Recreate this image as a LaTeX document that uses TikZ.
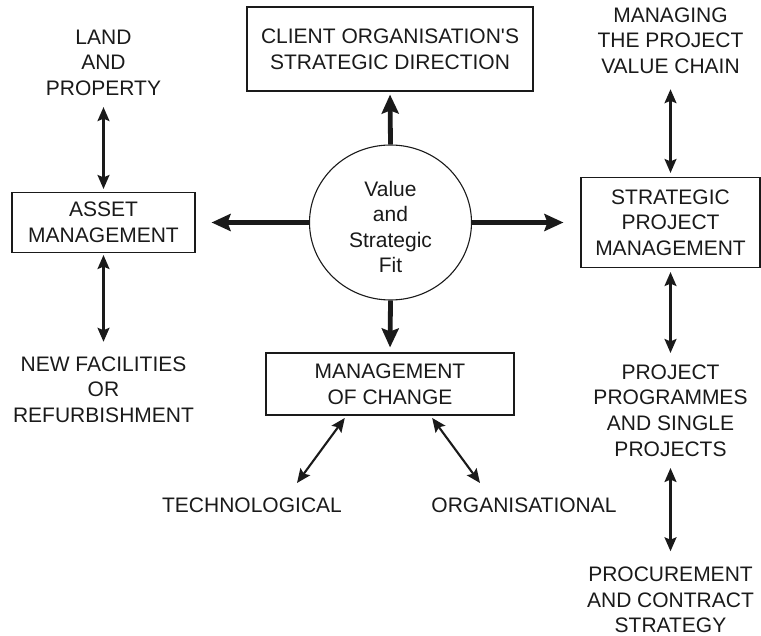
\documentclass[tikz,border=0pt]{standalone}
\usepackage{fontspec}
\setmainfont{Liberation Sans}
\usetikzlibrary{arrows.meta,shapes.geometric}
\definecolor{ink}{HTML}{1A1A1A}
\tikzset{
  box/.style={draw=ink, line width=1.1pt, rectangle, inner sep=0pt, align=center, text=ink},
  lbl/.style={inner sep=0pt, align=center, text=ink},
  thick arrow/.style={draw=ink, line width=4.8pt, -{Stealth[length=19pt,width=17pt,inset=3pt]}},
  thin arrow/.style={draw=ink, line width=2.1pt, {Stealth[length=14pt,width=12pt,inset=2.5pt]}-{Stealth[length=14pt,width=12pt,inset=2.5pt]}}
}
\begin{document}
\begin{tikzpicture}[x=1pt,y=-1pt,font=\fontsize{21}{25.6}\selectfont]
\useasboundingbox (0,0) rectangle (761,636);
% central ellipse
\node[draw=ink, line width=1.1pt, ellipse, minimum width=162pt, minimum height=155pt, inner sep=0pt] (vfit) at (390.5,222.5) {};
\node[lbl] (vtext) at (390.5,227) {Value\\and\\Strategic\\Fit};
% boxes
\node[box, minimum width=286pt, minimum height=84pt] (client) at (390,49) {CLIENT ORGANISATION\textquotesingle S\\STRATEGIC DIRECTION};
\node[box, minimum width=183pt, minimum height=60pt] (asset) at (103.5,222.5) {ASSET\\MANAGEMENT};
\node[box, minimum width=248pt, minimum height=62pt] (mgmt) at (390,384) {MANAGEMENT\\OF CHANGE};
\node[box, minimum width=179pt, minimum height=90pt] (spm) at (670.5,222.5) {STRATEGIC\\PROJECT\\MANAGEMENT};
% labels
\node[lbl] (land) at (103.5,62.5) {LAND\\AND\\PROPERTY};
\node[lbl] (newfac) at (103.5,389.5) {NEW FACILITIES\\OR\\REFURBISHMENT};
\node[lbl] (managing) at (670.5,40.5) {MANAGING\\THE PROJECT\\VALUE CHAIN};
\node[lbl] (projprog) at (670.5,410.5) {PROJECT\\PROGRAMMES\\AND SINGLE\\PROJECTS};
\node[lbl] (procure) at (670.5,600) {PROCUREMENT\\AND CONTRACT\\STRATEGY};
\node[lbl] (tech) at (252,505) {TECHNOLOGICAL};
\node[lbl] (org) at (524,505) {ORGANISATIONAL};
\coordinate (techend) at (297,483);
\coordinate (orgend) at (480,483);
% thick arrows
\draw[thick arrow, shorten >=3pt] (vfit.north) -- (client.south);
\draw[thick arrow, shorten >=16pt] (vfit.west) -- (asset.east);
\draw[thick arrow, shorten >=17pt] (vfit.east) -- (spm.west);
\draw[thick arrow, shorten >=5pt] (vfit.south) -- (mgmt.north);
% thin arrows
\draw[thin arrow, shorten <=11.5pt, shorten >=3pt] (land.south) -- (asset.north);
\draw[thin arrow, shorten <=2pt, shorten >=14.5pt] (asset.south) -- (newfac.north);
\draw[thin arrow, shorten <=15.5pt, shorten >=4pt] (managing.south) -- (spm.north);
\draw[thin arrow, shorten <=4pt, shorten >=11.5pt] (spm.south) -- (projprog.north);
\draw[thin arrow, shorten <=11.5pt, shorten >=15.5pt] (projprog.south) -- (procure.north);
\draw[thin arrow, shorten <=3pt] (mgmt.216.4) -- (techend);
\draw[thin arrow, shorten <=3pt] (mgmt.322.9) -- (orgend);
\end{tikzpicture}
\end{document}
